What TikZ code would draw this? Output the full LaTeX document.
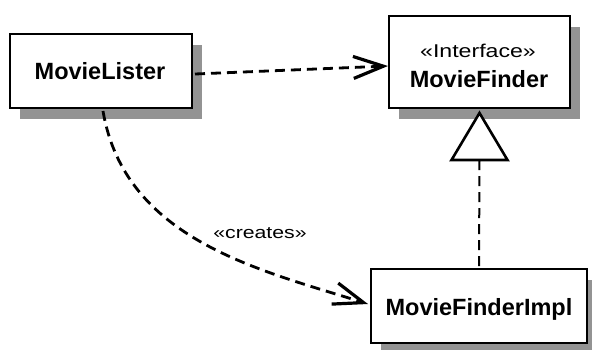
\documentclass[tikz,border=0pt]{standalone}
\usepackage{fontspec}
\setmainfont{Liberation Sans}
\newfontfamily\widesans[FakeStretch=1.25]{Liberation Sans}
\usetikzlibrary{arrows.meta,calc,shadows}

\newcommand\clsname{\fontsize{23.5}{28}\selectfont\bfseries}
\newcommand\stereoname{\widesans\fontsize{18.5}{22}\selectfont}
\newcommand\labelname{\widesans\fontsize{17}{20}\selectfont}

\begin{document}
\begin{tikzpicture}[x=1pt,y=-1pt,
  classbox/.style={draw, line width=2pt, fill=white, inner sep=0pt,
    general shadow={shadow xshift=10pt, shadow yshift=-11pt, fill=gray!85}},
  txt/.style={anchor=base, inner sep=0pt},
  dep/.style={line width=2.8pt, dash pattern=on 10pt off 6pt,
    -{Straight Barb[length=30pt, width=22pt, line width=3.2pt]}},
  real/.style={line width=2pt, dash pattern=on 10pt off 6pt}]
  \useasboundingbox (0,0) rectangle (592,349);
  \clip (0,0) rectangle (592,349);

  % classes
  \node[classbox, minimum width=182pt, minimum height=74pt] (ml) at (101,71) {};
  \node[txt] (mltext) at (100,79) {\clsname MovieLister};

  \node[classbox, minimum width=181pt, minimum height=92pt] (mf) at (479.5,62) {};
  \node[txt] (mfstereo) at (478,57) {\stereoname «Interface»};
  \node[txt] (mftext) at (479,87) {\clsname MovieFinder};

  \node[classbox, minimum width=216pt, minimum height=74pt] (mfi) at (479,306) {};
  \node[txt] (mfitext) at (479,315) {\clsname MovieFinderImpl};

  % uses dependency
  \draw[dep] ($(ml.east)+(2,3)$) -- ($(mf.west)+(0,4)$);

  % realization: hollow triangle and dashed line
  \coordinate (tribase) at ($(mf.south)+(0,51)$);
  \draw[line width=2.6pt, line join=miter, fill=white]
    ($(mf.south)+(0,4)$) -- ($(tribase)+(28,0)$) -- ($(tribase)+(-28,0)$) -- cycle;
  \draw[real] (tribase) -- (mfi.north);

  % creates dependency
  \draw[dep] ($(ml.south)+(2,2)$)
    .. controls (125,240) and (260,270) .. ($(mfi.west)+(-2,-2)$);
  \node[txt] (createslbl) at (260,238) {\labelname «creates»};
\end{tikzpicture}
\end{document}
